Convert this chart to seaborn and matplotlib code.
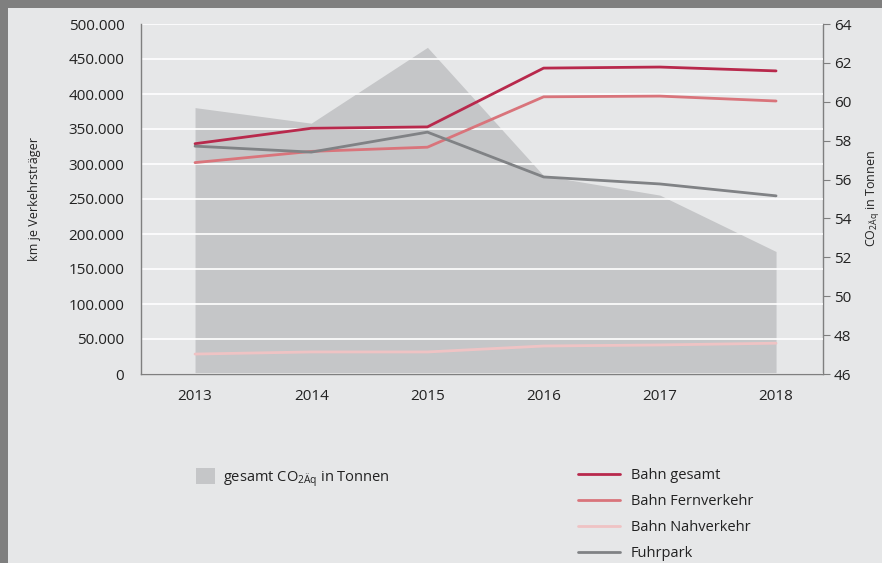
import numpy as np
import pandas as pd
import matplotlib
matplotlib.use("Agg")
import matplotlib.pyplot as plt
import matplotlib.patches as mpatches
from matplotlib.lines import Line2D
from matplotlib.ticker import FuncFormatter, FixedLocator
import seaborn as sns

# ---------------- Daten ----------------
jahre = ["2013", "2014", "2015", "2016", "2017", "2018"]
bahn_gesamt = [329000, 351000, 353000, 437000, 438500, 433000]
bahn_fern = [302000, 318000, 324000, 396000, 397000, 390000]
bahn_nah = [28500, 31500, 31500, 40000, 41500, 44000]
fuhrpark = [325500, 317000, 345500, 281500, 271500, 254500]
co2_gesamt = [59.7, 58.9, 62.8, 56.2, 55.2, 52.3]

serien = ["Bahn gesamt", "Bahn Fernverkehr", "Bahn Nahverkehr", "Fuhrpark"]
farben = ["#b8294c", "#d9747b", "#efc3c4", "#808285"]

BG = "#e6e7e8"
RAHMEN = "#7f7f7f"

sns.set_style("white")
plt.rcParams["font.family"] = ["Open Sans", "DejaVu Sans"]

df = pd.DataFrame({
    "pos": list(range(len(jahre))) * 4,
    "km": bahn_gesamt + bahn_fern + bahn_nah + fuhrpark,
    "serie": [s for s in serien for _ in jahre],
})

fig = plt.figure(figsize=(8.82, 5.63), dpi=100)
fig.patch.set_facecolor(RAHMEN)
fig.patches.append(mpatches.Rectangle((8 / 882, 0), 1, 1 - 8 / 563,
                                      transform=fig.transFigure,
                                      facecolor=BG, edgecolor="none", zorder=0))

ax = fig.add_axes([141 / 882, (563 - 374) / 563, (823 - 141) / 882, 350 / 563])
ax2 = ax.twinx()
ax.set_zorder(2)
ax2.set_zorder(1)
ax.patch.set_visible(False)
ax2.patch.set_visible(False)

# Fläche CO2 (rechte Achse)
x = np.arange(len(jahre))
ax2.fill_between(x, 46, co2_gesamt, color="#c5c6c8", linewidth=0)
ax2.set_ylim(46, 64)
ax2.set_yticks(np.arange(46, 65, 2))

# Linien (linke Achse)
sns.lineplot(data=df, x="pos", y="km", hue="serie", hue_order=serien,
             palette=farben, linewidth=2.0, legend=False, ax=ax)
ax.set_ylim(0, 500000)
ax.set_yticks(np.arange(0, 500001, 50000))
ax.yaxis.set_major_formatter(FuncFormatter(lambda v, p: f"{int(v):,}".replace(",", ".")))
ax.grid(axis="y", color="white", linewidth=1.2)
ax.set_axisbelow(True)

ax.set_xlim(-0.465, 5.404)
ax.set_xticks(x)
ax.set_xticklabels(jahre)
ax.xaxis.set_minor_locator(FixedLocator(np.arange(0.5, 5, 1)))
ax.tick_params(axis="x", which="major", length=0, labelsize=11, pad=11, labelcolor="#222222")
ax.tick_params(axis="x", which="minor", length=5, width=0.8, color=RAHMEN, direction="out")
ax.tick_params(axis="y", length=0, labelsize=11, pad=12, labelcolor="#222222")
ax2.tick_params(axis="y", length=5, width=0.8, color=RAHMEN, labelsize=11, pad=3, labelcolor="#222222")

ax.set_xlabel("")
ax.set_ylabel("km je Verkehrsträger", fontsize=9, color="#222222", labelpad=20)
ax2.set_ylabel(r"CO$_{\mathregular{2Äq}}$ in Tonnen", fontsize=9, color="#222222", labelpad=9)

for a in (ax, ax2):
    for s in ["top", "right", "left", "bottom"]:
        a.spines[s].set_visible(False)
ax.spines["left"].set_visible(True)
ax.spines["bottom"].set_visible(True)
ax2.spines["right"].set_visible(True)
for sp in (ax.spines["left"], ax.spines["bottom"], ax2.spines["right"]):
    sp.set_color(RAHMEN)
    sp.set_linewidth(1.0)

# Legenden
leg1 = fig.legend(handles=[mpatches.Patch(facecolor="#c5c6c8", edgecolor="none",
                                          label=r"gesamt CO$_{\mathregular{2Äq}}$ in Tonnen")],
                  loc="upper left", bbox_to_anchor=(183 / 882, 1 - 455 / 563),
                  frameon=False, fontsize=10.5, handlelength=1.3, handleheight=1.3,
                  handletextpad=0.55)
for t in leg1.get_texts():
    t.set_color("#222222")

line_handles = [Line2D([0], [0], color=c, linewidth=2.0, label=s) for s, c in zip(serien, farben)]
leg2 = fig.legend(handles=line_handles, loc="upper left",
                  bbox_to_anchor=(565 / 882, 1 - 455 / 563), frameon=False,
                  fontsize=10.5, handlelength=2.9, handletextpad=0.7, labelspacing=0.75)
for t in leg2.get_texts():
    t.set_color("#222222")

fig.savefig("out.png", dpi=100, facecolor=fig.get_facecolor())
